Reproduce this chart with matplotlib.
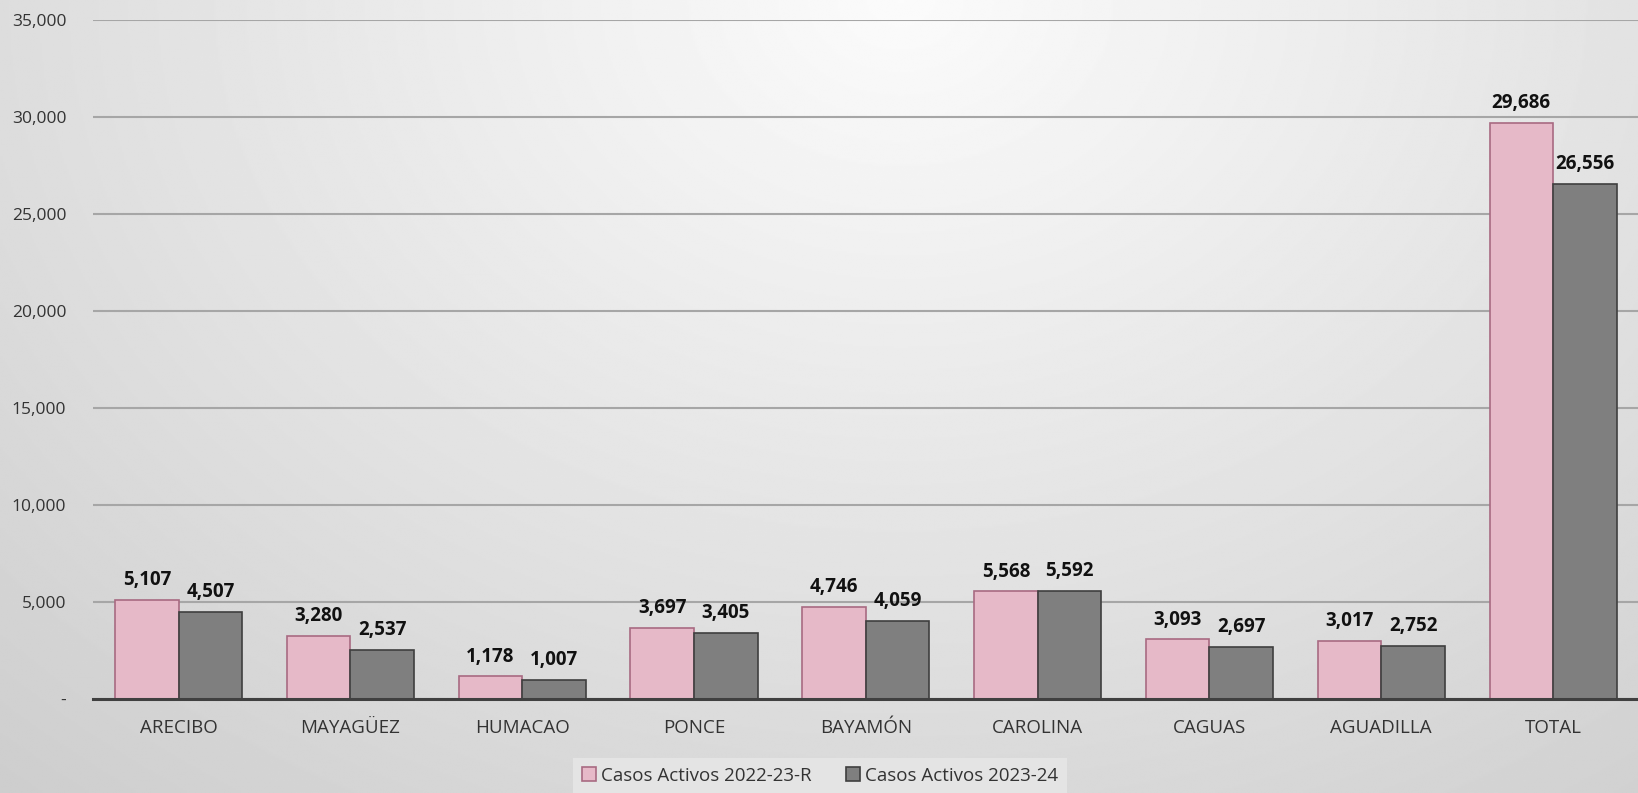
import matplotlib
matplotlib.use('Agg')

import numpy as np
import matplotlib.pyplot as plt
from matplotlib.ticker import FuncFormatter

plt.rcParams['font.family'] = ['Open Sans', 'DejaVu Sans']

regions = ['ARECIBO', 'MAYAGÜEZ', 'HUMACAO', 'PONCE', 'BAYAMÓN',
           'CAROLINA', 'CAGUAS', 'AGUADILLA', 'TOTAL']
casos_2022 = [5107, 3280, 1178, 3697, 4746, 5568, 3093, 3017, 29686]
casos_2023 = [4507, 2537, 1007, 3405, 4059, 5592, 2697, 2752, 26556]
series_names = ['Casos Activos 2022-23-R', 'Casos Activos 2023-24']

fig = plt.figure(figsize=(16.38, 7.93), dpi=100)

# radial grey background, bright at top centre
bg = fig.add_axes([0, 0, 1, 1])
yy, xx = np.mgrid[0:1:400j, 0:1:800j]
rr = np.sqrt(((xx - 0.55) * 1.6) ** 2 + (yy * 1.0) ** 2)
shade = np.clip(0.985 - 0.135 * rr, 0.78, 0.985)
bg.imshow(shade, cmap='gray', vmin=0, vmax=1, aspect='auto',
          extent=[0, 1, 1, 0], interpolation='bilinear')
bg.set_axis_off()

ax = fig.add_axes([92.7 / 1638, 1 - 699.3 / 793, (1639 - 92.7) / 1638, (699.3 - 20) / 793])
ax.patch.set_alpha(0)

x = np.arange(len(regions))
w = 0.37
b1 = ax.bar(x - w / 2, casos_2022, w, color='#e6b9c8', edgecolor='#a86a82', linewidth=1.2,
            label=series_names[0], zorder=3)
b2 = ax.bar(x + w / 2, casos_2023, w, color='#7f7f7f', edgecolor='#3f3f3f', linewidth=1.2,
            label=series_names[1], zorder=3)

for bars in (b1, b2):
    for r in bars:
        ax.annotate(f'{int(r.get_height()):,}', (r.get_x() + r.get_width() / 2, r.get_height()),
                    xytext=(0, 7), textcoords='offset points', ha='center', va='bottom',
                    fontsize=13.5, fontweight='bold', color='#111111', zorder=4)

ax.set_xlim(-0.5, len(regions) - 0.5)
ax.set_ylim(0, 35000)
ax.set_yticks(np.arange(0, 35001, 5000))
ax.yaxis.set_major_formatter(FuncFormatter(lambda v, p: '-' if v == 0 else f'{int(v):,}'))
ax.grid(axis='y', color='#a6a6a6', linewidth=1.5, zorder=0)
ax.set_xticks(x)
ax.set_xticklabels(regions)
ax.tick_params(axis='y', length=0, labelsize=12.5, labelcolor='#333333', pad=19)
ax.tick_params(axis='x', length=0, labelsize=13.5, labelcolor='#333333', pad=14)
for s in ['top', 'right', 'left']:
    ax.spines[s].set_visible(False)
ax.spines['bottom'].set_color('#404040')
ax.spines['bottom'].set_linewidth(2.2)
ax.spines['bottom'].set_zorder(5)

leg = fig.legend(loc='lower center', bbox_to_anchor=(820 / 1638, 0.0), ncol=2, frameon=True,
                 fontsize=13.5, handlelength=0.75, handleheight=0.75, handletextpad=0.3,
                 columnspacing=1.8, borderpad=0.45, borderaxespad=0, fancybox=False)
leg.get_frame().set_facecolor('#e4e4e4')
leg.get_frame().set_edgecolor('none')
leg.get_frame().set_alpha(1)
for t in leg.get_texts():
    t.set_color('#333333')

fig.savefig('out.png', dpi=100)
